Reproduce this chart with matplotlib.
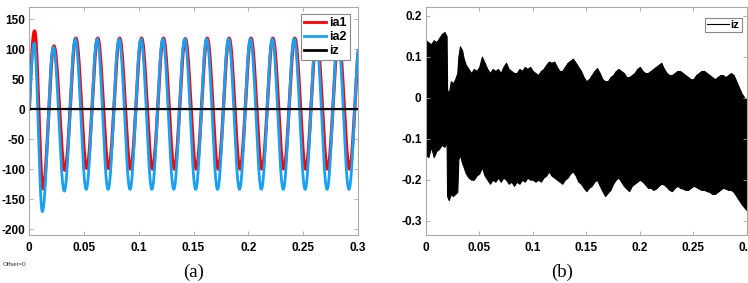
import numpy as np
import matplotlib
matplotlib.use("Agg")
import matplotlib.pyplot as plt
from matplotlib.ticker import FuncFormatter

plt.rcParams["axes.unicode_minus"] = False

# ---------------- Panel (a): phase currents, extrema ----------------
ia1_ext_t = [0.0048, 0.0125, 0.0225, 0.0325, 0.0425, 0.0525, 0.0625, 0.0725, 0.0825, 0.0925,
             0.1025, 0.1125, 0.1225, 0.1325, 0.1425, 0.1525, 0.1625, 0.1725, 0.1825, 0.1925,
             0.2025, 0.2125, 0.2225, 0.2325, 0.2425, 0.2525, 0.2625, 0.2725, 0.2825, 0.2925, 0.3025]
ia1_ext_v = [130, -133, 105, -102, 118, -99, 118, -99, 118, -100,
             118, -100, 118, -100, 117, -100, 118, -100, 118, -100,
             118, -100, 118, -100, 118, -100, 118, -100, 118, -100, 118]

ia2_ext_t = [0.0045, 0.0119, 0.0220, 0.0320, 0.0420, 0.0520, 0.0620, 0.0720, 0.0820, 0.0920,
             0.1020, 0.1120, 0.1220, 0.1320, 0.1420, 0.1520, 0.1620, 0.1720, 0.1820, 0.1920,
             0.2020, 0.2120, 0.2220, 0.2320, 0.2420, 0.2520, 0.2620, 0.2720, 0.2820, 0.2920, 0.3020]
ia2_ext_v = [110, -171, 103, -137, 117, -134, 117, -134, 117, -134,
             117, -134, 117, -134, 117, -134, 117, -134, 117, -134,
             117, -134, 117, -134, 117, -134, 117, -134, 117, -134, 117]

start_t = 0.0
start_v = 0.0

# ---------------- Panel (b): iz envelope (upper / lower) ----------------
iz_t = [0.0, 0.0025, 0.005, 0.0075, 0.010, 0.0125, 0.015, 0.0175, 0.0195, 0.0200,
        0.0215, 0.0235, 0.0255, 0.0275, 0.0295, 0.0305, 0.032, 0.034, 0.0355, 0.0375,
        0.040, 0.0425, 0.045, 0.0475, 0.050, 0.0525, 0.055, 0.0575, 0.060, 0.0625,
        0.065, 0.0675, 0.070, 0.0725, 0.075, 0.0775, 0.080, 0.0825, 0.085, 0.0875,
        0.090, 0.0925, 0.095, 0.0975, 0.100, 0.1025, 0.105, 0.1075, 0.110, 0.1125,
        0.115, 0.1175, 0.120, 0.1225, 0.125, 0.1275, 0.130, 0.1325, 0.135, 0.1375,
        0.140, 0.1425, 0.145, 0.1475, 0.150, 0.1525, 0.155, 0.1575, 0.160, 0.1625,
        0.165, 0.1675, 0.170, 0.1725, 0.175, 0.1775, 0.180, 0.1825, 0.185, 0.1875,
        0.190, 0.1925, 0.195, 0.1975, 0.200, 0.2025, 0.205, 0.2075, 0.210, 0.2125,
        0.215, 0.2175, 0.220, 0.2225, 0.225, 0.2275, 0.230, 0.2325, 0.235, 0.2375,
        0.240, 0.2425, 0.245, 0.2475, 0.250, 0.2525, 0.255, 0.2575, 0.260, 0.2625,
        0.265, 0.2675, 0.270, 0.2725, 0.275, 0.2775, 0.280, 0.2825, 0.285, 0.2875,
        0.290, 0.2925, 0.295, 0.2975, 0.300]
iz_up = [0.140, 0.135, 0.130, 0.140, 0.135, 0.145, 0.155, 0.160, 0.150, 0.020,
         0.010, 0.040, 0.035, 0.045, 0.060, 0.100, 0.125, 0.115, 0.095, 0.080,
         0.070, 0.060, 0.070, 0.065, 0.075, 0.100, 0.085, 0.070, 0.060, 0.070,
         0.065, 0.070, 0.060, 0.075, 0.085, 0.070, 0.065, 0.060, 0.060, 0.070,
         0.065, 0.075, 0.070, 0.075, 0.065, 0.060, 0.055, 0.065, 0.070, 0.080,
         0.088, 0.085, 0.088, 0.075, 0.065, 0.065, 0.075, 0.085, 0.090, 0.095,
         0.085, 0.075, 0.065, 0.050, 0.040, 0.045, 0.055, 0.065, 0.072, 0.060,
         0.045, 0.040, 0.040, 0.050, 0.055, 0.065, 0.070, 0.065, 0.060, 0.050,
         0.050, 0.055, 0.060, 0.070, 0.075, 0.065, 0.060, 0.060, 0.065, 0.070,
         0.075, 0.080, 0.085, 0.070, 0.060, 0.055, 0.055, 0.060, 0.065, 0.065,
         0.060, 0.055, 0.050, 0.045, 0.045, 0.055, 0.060, 0.065, 0.065, 0.060,
         0.055, 0.050, 0.045, 0.050, 0.055, 0.055, 0.050, 0.055, 0.060, 0.055,
         0.040, 0.025, 0.010, 0.000, -0.005]
iz_lo = [-0.140, -0.145, -0.120, -0.145, -0.130, -0.125, -0.115, -0.120, -0.110, -0.240,
         -0.250, -0.235, -0.240, -0.235, -0.230, -0.150, -0.140, -0.160, -0.170, -0.185,
         -0.195, -0.200, -0.200, -0.190, -0.185, -0.170, -0.190, -0.200, -0.210, -0.200,
         -0.205, -0.195, -0.205, -0.195, -0.200, -0.210, -0.205, -0.215, -0.205, -0.210,
         -0.200, -0.205, -0.195, -0.200, -0.200, -0.205, -0.200, -0.205, -0.195, -0.190,
         -0.180, -0.190, -0.195, -0.200, -0.205, -0.210, -0.200, -0.195, -0.185, -0.180,
         -0.190, -0.205, -0.210, -0.220, -0.228, -0.220, -0.215, -0.205, -0.200, -0.215,
         -0.228, -0.240, -0.232, -0.225, -0.210, -0.200, -0.195, -0.205, -0.215, -0.222,
         -0.228, -0.215, -0.210, -0.205, -0.200, -0.205, -0.212, -0.220, -0.220, -0.225,
         -0.222, -0.215, -0.210, -0.212, -0.218, -0.225, -0.228, -0.220, -0.215, -0.220,
         -0.222, -0.225, -0.225, -0.220, -0.215, -0.218, -0.222, -0.225, -0.225, -0.228,
         -0.230, -0.235, -0.235, -0.230, -0.225, -0.220, -0.222, -0.225, -0.225, -0.230,
         -0.240, -0.250, -0.260, -0.268, -0.275]

xticks = [0, 0.05, 0.1, 0.15, 0.2, 0.25, 0.3]
yticks_a = [-200, -150, -100, -50, 0, 50, 100, 150]
yticks_b = [-0.3, -0.2, -0.1, 0, 0.1, 0.2]


def smooth_wave(t0, v0, ext_t, ext_v, n=40):
    """Join the read extrema with sinusoid-shaped segments."""
    s = np.linspace(0, 1, n)
    T = [t0 + (ext_t[0] - t0) * s]
    Y = [v0 + (ext_v[0] - v0) * np.sin(np.pi / 2 * s)]
    for a, b, va, vb in zip(ext_t[:-1], ext_t[1:], ext_v[:-1], ext_v[1:]):
        T.append(a + (b - a) * s[1:])
        Y.append((va + vb) / 2 + (va - vb) / 2 * np.cos(np.pi * s[1:]))
    return np.concatenate(T), np.concatenate(Y)


W, H = 748, 283
fig = plt.figure(figsize=(W / 100, H / 100), dpi=100)

tick_font = dict(family="Liberation Sans", weight="bold", size=8.5)
spine_col = "#a8a8a8"


def style_axes(ax):
    for sp in ax.spines.values():
        sp.set_color(spine_col)
        sp.set_linewidth(0.8)
    ax.tick_params(direction="in", length=3, width=0.6, color=spine_col,
                   top=True, right=True, labelcolor="black")
    ax.tick_params(axis="x", pad=5)
    ax.tick_params(axis="y", pad=3)
    ax.xaxis.set_major_formatter(FuncFormatter(lambda v, p: f"{v:g}"))
    ax.yaxis.set_major_formatter(FuncFormatter(lambda v, p: f"{v:g}"))
    for lab in ax.get_xticklabels() + ax.get_yticklabels():
        lab.set_fontfamily(tick_font["family"])
        lab.set_fontweight(tick_font["weight"])
        lab.set_fontsize(tick_font["size"])


# ---- Panel (a)
ax1 = fig.add_axes([29.3 / W, 1 - 235 / H, (357.7 - 29.3) / W, 228 / H])
t1, y1 = smooth_wave(start_t, start_v, ia1_ext_t, ia1_ext_v)
t2, y2 = smooth_wave(start_t, start_v, ia2_ext_t, ia2_ext_v)
iz_mid = (np.array(iz_up) + np.array(iz_lo)) / 2
ax1.plot(t1, y1, color="#ff0000", lw=2.4, label="ia1")
ax1.plot(t2, y2, color="#18a0f2", lw=2.0, label="ia2")
ax1.plot(iz_t, iz_mid, color="black", lw=1.6, label="iz")
ax1.set_xlim(0, 0.3)
ax1.set_ylim(-210, 170)
ax1.set_xticks(xticks)
ax1.set_yticks(yticks_a)
style_axes(ax1)
leg1 = ax1.legend(loc="upper right", bbox_to_anchor=(1 - 7.5 / 328.4, 1 - 7 / 228),
                  prop=dict(family="Liberation Sans", weight="bold", size=9),
                  fancybox=False, framealpha=1, edgecolor="#888888",
                  handlelength=1.75, handletextpad=0.3, borderpad=0.25,
                  labelspacing=0.15, borderaxespad=0)
leg1.get_frame().set_linewidth(0.8)
for ln in leg1.get_lines():
    ln.set_linewidth(2.0)

# ---- Panel (b)
ax2 = fig.add_axes([425.7 / W, 1 - 235 / H, (747 - 425.7) / W, 228 / H])
ax2.fill_between(iz_t, iz_lo, iz_up, color="black", lw=0.8, edgecolor="black")
ax2.plot([], [], color="black", lw=0.8, label="iz")
ax2.set_xlim(0, 0.3)
ax2.set_ylim(-0.335, 0.221)
ax2.set_xticks(xticks)
ax2.set_yticks(yticks_b)
style_axes(ax2)
leg2 = ax2.legend(loc="upper right", bbox_to_anchor=(1 - 5.3 / 321.3, 1 - 11 / 228),
                  prop=dict(family="Liberation Sans", weight="bold", size=8),
                  fancybox=False, framealpha=1, edgecolor="#888888",
                  handlelength=2.0, handletextpad=0.15, borderpad=0.2,
                  borderaxespad=0)
leg2.get_frame().set_linewidth(0.8)

# ---- Captions
fig.text(193.5 / W, 1 - 272 / H, "(a)", ha="center", va="center",
         family="Liberation Serif", size=13.5)
fig.text(562 / W, 1 - 272 / H, "(b)", ha="center", va="center",
         family="Liberation Serif", size=13.5)
fig.text(3 / W, 1 - 265 / H, "Offset=0", ha="left", va="center",
         family="Liberation Sans", size=4.5, color="#333333")

fig.savefig("out.png", dpi=100)
